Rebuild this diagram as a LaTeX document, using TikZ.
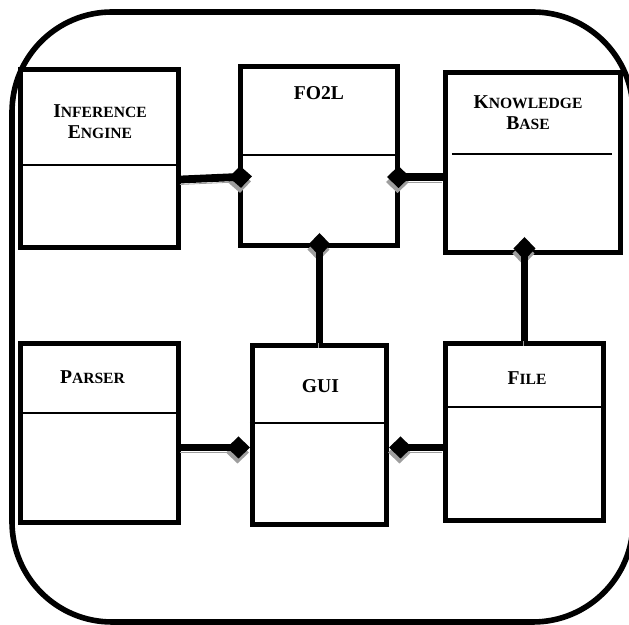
\documentclass[tikz,border=0pt]{standalone}
\usepackage{fontspec}
\setmainfont{Liberation Serif}
\usetikzlibrary{arrows.meta,calc}

% Word-style small caps: full-size first letter, smaller capitals after it
\newcommand\capsc[2]{#1{\fontsize{7.8}{10.8}\selectfont#2}}

\begin{document}
\begin{tikzpicture}[x=0.5pt,y=-0.5pt,
		cls/.style={draw,line width=2.5pt,fill=white,inner sep=0pt},
		ttl/.style={font=\fontsize{9.8}{10.8}\selectfont\bfseries,align=center,anchor=base,inner sep=0pt},
		sep/.style={line width=1pt},
		lnk/.style={line width=3.9pt,-{Diamond[length=11.5pt,width=11pt,line width=0pt]},
				preaction={draw=black!38,-{Diamond[length=11.5pt,width=11pt,line width=0pt]},
					transform canvas={shift={(-0.5pt,-2.5pt)}}}}
		]
		\useasboundingbox (0,0) rectangle (629,625);
		\draw[line width=2.8pt,rounded corners=50pt] (12,12) rectangle (633,622);

		% classes
		\node[cls,minimum width=79pt,minimum height=89pt] (ie) at (99.5,158.5) {};
		\node[cls,minimum width=78.5pt,minimum height=89.5pt] (fo) at (319,156) {};
		\node[cls,minimum width=87.5pt,minimum height=90pt] (kb) at (533,162.5) {};
		\node[cls,minimum width=79pt,minimum height=89.5pt] (parser) at (99.5,433) {};
		\node[cls,minimum width=67pt,minimum height=89.5pt] (gui) at (319.5,435) {};
		\node[cls,minimum width=79pt,minimum height=88.5pt] (file) at (524.5,432) {};

		\draw[sep] (ie.west |- 0,165) -- (ie.east |- 0,165);
		\draw[sep] (fo.west |- 0,155) -- (fo.east |- 0,155);
		\draw[sep] (452,154) -- (612,154);
		\draw[sep] (parser.west |- 0,413) -- (parser.east |- 0,413);
		\draw[sep] (gui.west |- 0,423) -- (gui.east |- 0,423);
		\draw[sep] (file.west |- 0,407) -- (file.east |- 0,407);

		\node[ttl] (ie-t) at ($(ie.north)+(0.5,72)$) {\capsc{I}{NFERENCE}\\\capsc{E}{NGINE}};
		\node[ttl] (fo-t) at ($(fo.north)+(0,36)$) {FO2L};
		\node[ttl] (kb-t) at ($(kb.north)+(-5,60)$) {\capsc{K}{NOWLEDGE}\\\capsc{B}{ASE}};
		\node[ttl] (parser-t) at ($(parser.north)+(-7,43)$) {\capsc{P}{ARSER}};
		\node[ttl] (gui-t) at ($(gui.north)+(1,50)$) {GUI};
		\node[ttl] (file-t) at ($(file.north)+(2.5,44)$) {\capsc{F}{ILE}};

		% aggregations
		\draw[lnk,shorten >=-7pt] ($(ie.east)+(0,21)$) -- ($(fo.west)+(0,21)$);
		\draw[lnk,shorten >=-6.5pt] ($(kb.west)+(0,14.5)$) -- ($(fo.east)+(0,21)$);
		\draw[lnk,shorten >=-7.5pt] (gui.north) -- (gui.north |- fo.south);
		\draw[lnk,shorten >=-9pt] (file.north) -- (file.north |- kb.south);
		\draw[lnk] ($(parser.east)+(0,14.5)$) -- ($(gui.west)+(0,12.5)$);
		\draw[lnk] ($(file.west)+(0,15.5)$) -- ($(gui.east)+(0,12.5)$);
	\end{tikzpicture}
\end{document}
